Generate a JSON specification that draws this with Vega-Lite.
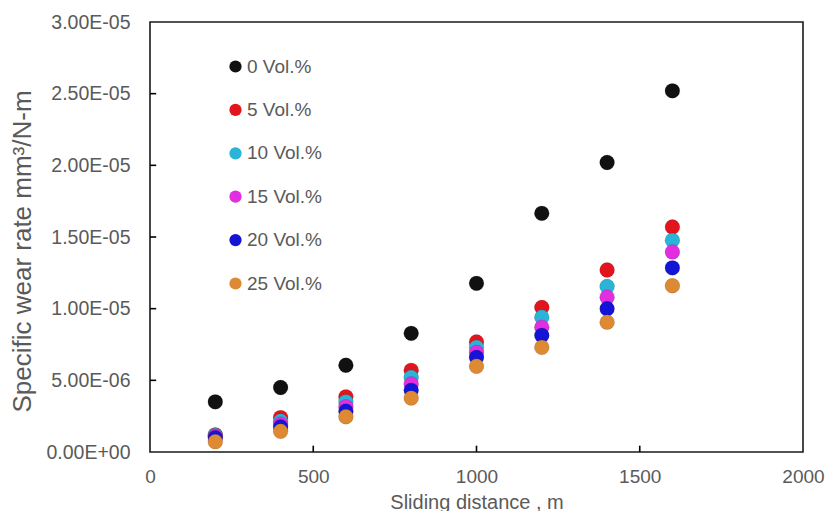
{
  "$schema": "https://vega.github.io/schema/vega-lite/v6.json",
  "width": 653,
  "height": 430,
  "autosize": "none",
  "padding": {"left": 150, "top": 22, "right": 25, "bottom": 59},
  "background": "white",
  "config": {
    "font": "Liberation Sans",
    "view": {"stroke": "#1a1a1a", "strokeWidth": 1.6},
    "axis": {
      "grid": false,
      "domain": false,
      "ticks": false,
      "labelColor": "#5a5a5a",
      "titleColor": "#5a5a5a",
      "labelFont": "Liberation Sans",
      "titleFont": "Liberation Sans",
      "titleFontWeight": "normal",
      "labelFlush": false,
      "labelOverlap": false
    }
  },
  "layer": [
    {
      "data": {"values": [{"distance": 500}, {"distance": 1000}, {"distance": 1500}]},
      "mark": {"type": "rule", "color": "#000000", "strokeWidth": 1.6},
      "encoding": {
        "x": {"field": "distance", "type": "quantitative", "scale": {"domain": [0, 2000], "nice": false, "zero": true}},
        "y": {"datum": 0, "type": "quantitative", "scale": {"domain": [0, 3e-5], "nice": false}},
        "y2": {"datum": 4.4e-7}
      }
    },
    {
      "data": {"values": [{"rate": 5e-6}, {"rate": 1e-5}, {"rate": 1.5e-5}, {"rate": 2e-5}, {"rate": 2.5e-5}]},
      "mark": {"type": "rule", "color": "#000000", "strokeWidth": 1.6},
      "encoding": {
        "y": {"field": "rate", "type": "quantitative"},
        "x": {"datum": 0, "type": "quantitative"},
        "x2": {"datum": 19}
      }
    },
    {
      "data": {
        "values": [
          {"distance": 200, "group": "0 Vol.%", "rate": 3.5e-6},
          {"distance": 400, "group": "0 Vol.%", "rate": 4.5e-6},
          {"distance": 600, "group": "0 Vol.%", "rate": 6.05e-6},
          {"distance": 800, "group": "0 Vol.%", "rate": 8.28e-6},
          {"distance": 1000, "group": "0 Vol.%", "rate": 1.177e-5},
          {"distance": 1200, "group": "0 Vol.%", "rate": 1.665e-5},
          {"distance": 1400, "group": "0 Vol.%", "rate": 2.02e-5},
          {"distance": 1600, "group": "0 Vol.%", "rate": 2.52e-5},
          {"distance": 200, "group": "5 Vol.%", "rate": 1.2e-6},
          {"distance": 400, "group": "5 Vol.%", "rate": 2.4e-6},
          {"distance": 600, "group": "5 Vol.%", "rate": 3.85e-6},
          {"distance": 800, "group": "5 Vol.%", "rate": 5.7e-6},
          {"distance": 1000, "group": "5 Vol.%", "rate": 7.68e-6},
          {"distance": 1200, "group": "5 Vol.%", "rate": 1.008e-5},
          {"distance": 1400, "group": "5 Vol.%", "rate": 1.27e-5},
          {"distance": 1600, "group": "5 Vol.%", "rate": 1.57e-5},
          {"distance": 200, "group": "10 Vol.%", "rate": 1.15e-6},
          {"distance": 400, "group": "10 Vol.%", "rate": 2.15e-6},
          {"distance": 600, "group": "10 Vol.%", "rate": 3.5e-6},
          {"distance": 800, "group": "10 Vol.%", "rate": 5.2e-6},
          {"distance": 1000, "group": "10 Vol.%", "rate": 7.3e-6},
          {"distance": 1200, "group": "10 Vol.%", "rate": 9.4e-6},
          {"distance": 1400, "group": "10 Vol.%", "rate": 1.155e-5},
          {"distance": 1600, "group": "10 Vol.%", "rate": 1.477e-5},
          {"distance": 200, "group": "15 Vol.%", "rate": 1.1e-6},
          {"distance": 400, "group": "15 Vol.%", "rate": 1.95e-6},
          {"distance": 600, "group": "15 Vol.%", "rate": 3.15e-6},
          {"distance": 800, "group": "15 Vol.%", "rate": 4.75e-6},
          {"distance": 1000, "group": "15 Vol.%", "rate": 6.95e-6},
          {"distance": 1200, "group": "15 Vol.%", "rate": 8.7e-6},
          {"distance": 1400, "group": "15 Vol.%", "rate": 1.08e-5},
          {"distance": 1600, "group": "15 Vol.%", "rate": 1.396e-5},
          {"distance": 200, "group": "20 Vol.%", "rate": 1.0e-6},
          {"distance": 400, "group": "20 Vol.%", "rate": 1.75e-6},
          {"distance": 600, "group": "20 Vol.%", "rate": 2.85e-6},
          {"distance": 800, "group": "20 Vol.%", "rate": 4.3e-6},
          {"distance": 1000, "group": "20 Vol.%", "rate": 6.6e-6},
          {"distance": 1200, "group": "20 Vol.%", "rate": 8.13e-6},
          {"distance": 1400, "group": "20 Vol.%", "rate": 1.0e-5},
          {"distance": 1600, "group": "20 Vol.%", "rate": 1.285e-5},
          {"distance": 200, "group": "25 Vol.%", "rate": 7.2e-7},
          {"distance": 400, "group": "25 Vol.%", "rate": 1.45e-6},
          {"distance": 600, "group": "25 Vol.%", "rate": 2.46e-6},
          {"distance": 800, "group": "25 Vol.%", "rate": 3.76e-6},
          {"distance": 1000, "group": "25 Vol.%", "rate": 5.98e-6},
          {"distance": 1200, "group": "25 Vol.%", "rate": 7.3e-6},
          {"distance": 1400, "group": "25 Vol.%", "rate": 9.06e-6},
          {"distance": 1600, "group": "25 Vol.%", "rate": 1.16e-5}
        ]
      },
      "mark": {"type": "circle", "size": 220, "opacity": 1, "stroke": "#00000033", "strokeWidth": 0.6},
      "encoding": {
        "x": {
          "field": "distance",
          "type": "quantitative",
          "axis": {
            "values": [0, 500, 1000, 1500, 2000],
            "format": "d",
            "title": "Sliding distance , m",
            "labelFontSize": 19,
            "titleFontSize": 20,
            "labelPadding": 15,
            "titlePadding": 6
          }
        },
        "y": {
          "field": "rate",
          "type": "quantitative",
          "axis": {
            "values": [0, 5e-6, 1e-5, 1.5e-5, 2e-5, 2.5e-5, 3e-5],
            "labelExpr": "replace(replace(format(datum.value, '.2e'), 'e-', 'E-0'), 'e+', 'E+0')",
            "title": "Specific wear rate mm³/N-m",
            "labelFontSize": 19.5,
            "titleFontSize": 26,
            "labelPadding": 20,
            "titleX": -128,
            "titleY": 229,
            "titleBaseline": "middle",
            "titleAngle": -90
          }
        },
        "color": {
          "field": "group",
          "type": "nominal",
          "scale": {
            "domain": ["0 Vol.%", "5 Vol.%", "10 Vol.%", "15 Vol.%", "20 Vol.%", "25 Vol.%"],
            "range": ["#111111", "#e3141c", "#2ab4d8", "#e22ee0", "#1414d6", "#dd8a32"]
          },
          "legend": {
            "title": null,
            "orient": "none",
            "legendX": 76,
            "legendY": 35,
            "symbolType": "circle",
            "symbolSize": 150,
            "symbolStrokeWidth": 0,
            "labelFontSize": 19,
            "labelColor": "#5a5a5a",
            "labelFont": "Liberation Sans",
            "labelOffset": 2,
            "rowPadding": 23.4,
            "padding": 0
          }
        }
      }
    }
  ]
}
